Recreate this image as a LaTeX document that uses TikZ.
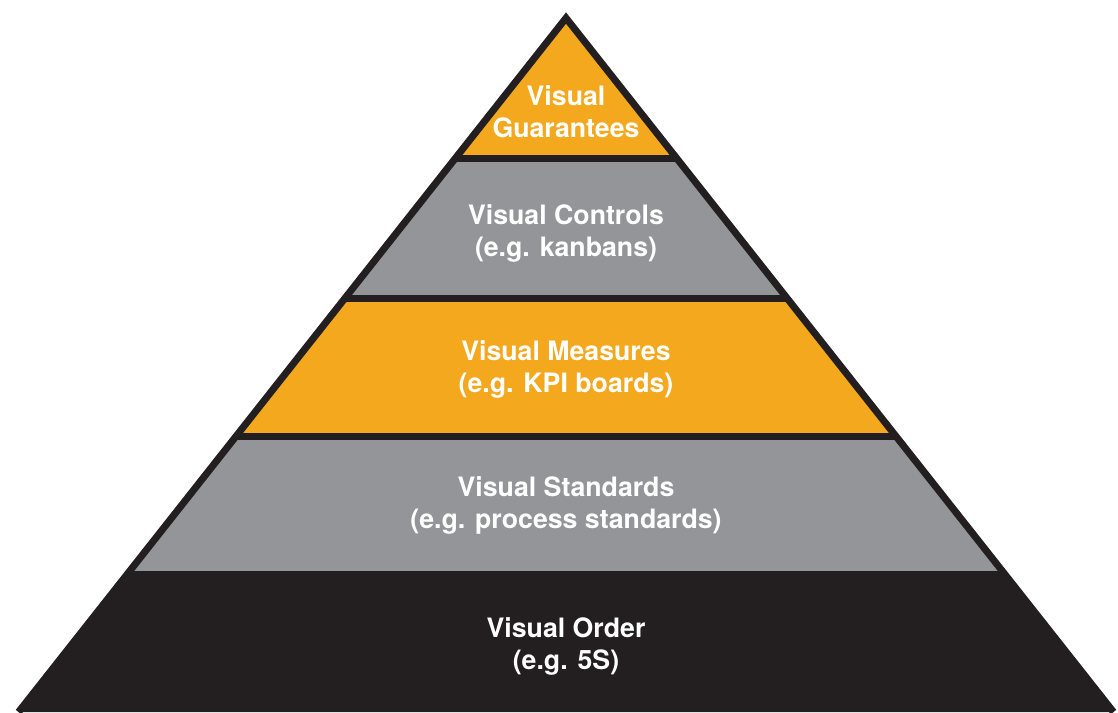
\documentclass[tikz,border=0pt]{standalone}
\usepackage{fontspec}
\setmainfont{TeX Gyre Heros}
\definecolor{pyrorange}{HTML}{F4A81E}
\definecolor{pyrgray}{HTML}{939598}
\definecolor{pyrblack}{HTML}{231F20}
\tikzset{
  layerlabel/.style={text=white, font=\bfseries\fontsize{26.7}{32}\selectfont, align=center, inner sep=0pt},
  edge/.style={draw=pyrblack, line width=7pt, line join=miter}
}
\begin{document}
\begin{tikzpicture}[x=1pt,y=-1pt]
            \useasboundingbox (0,0) rectangle (1118,712);
            % layers, top to bottom
            \fill[pyrorange] (566,18) -- (676.4,158) -- (455.6,158) -- cycle ;
            \fill[pyrgray] (455.6,158) -- (676.4,158) -- (786.9,298) -- (345.1,298) -- cycle ;
            \fill[pyrorange] (345.1,298) -- (786.9,298) -- (895.8,436) -- (236.2,436) -- cycle ;
            \fill[pyrgray] (236.2,436) -- (895.8,436) -- (1004.6,574) -- (127.4,574) -- cycle ;
            \fill[pyrblack] (127.4,574) -- (1004.6,574) -- (1113.5,712) -- (18.5,712) -- cycle ;
            % outline and dividers
            \draw[edge] (18.5,712) -- (566,18) -- (1113.5,712) ;
            \draw[edge] (455.6,158) -- (676.4,158) ;
            \draw[edge] (345.1,298) -- (786.9,298) ;
            \draw[edge] (236.2,436) -- (895.8,436) ;
            \draw[edge] (127.4,574) -- (1004.6,574) ;

            \node[layerlabel] (guarantees) at (566,112) {Visual\\Guarantees};
            \node[layerlabel] (controls) at (566,233) {Visual Controls\\(e.g. kanbans)};
            \node[layerlabel] (measures) at (566,369) {Visual Measures\\(e.g. KPI boards)};
            \node[layerlabel] (standards) at (566,505) {Visual Standards\\(e.g. process standards)};
            \node[layerlabel] (order) at (566,646) {Visual Order\\(e.g. 5S)};
        \end{tikzpicture}
\end{document}
